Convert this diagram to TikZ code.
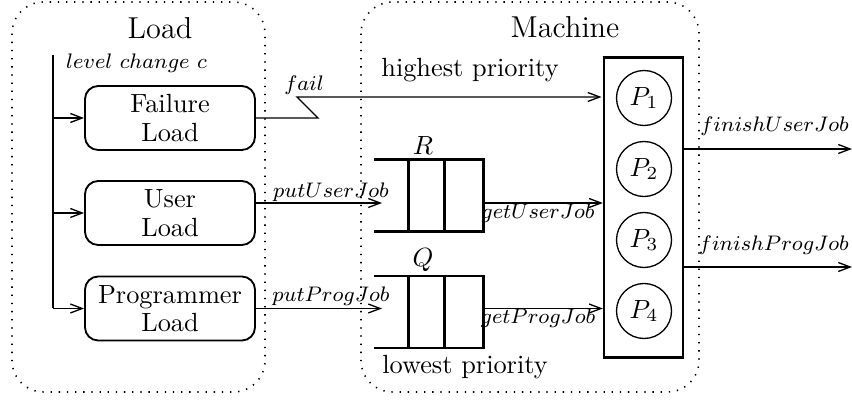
\documentclass[tikz,border=0pt]{standalone}
\usetikzlibrary{arrows.meta}
\begin{document}
\begin{tikzpicture}[x=0.38pt,y=-0.38pt,
  frame/.style={draw,line width=0.6pt,dash pattern=on 0.5pt off 2.6pt,rounded corners=12pt},
  loadbox/.style={draw,line width=0.7pt,rounded corners=5pt,minimum width=170*0.38pt,minimum height=64*0.38pt,align=center,inner sep=0pt,font=\normalsize\linespread{0.9}\selectfont},
  proc/.style={draw,circle,line width=0.5pt,minimum size=55*0.38pt,inner sep=0pt},
  qbox/.style={minimum width=108*0.38pt,minimum height=71*0.38pt,inner sep=0pt},
  qline/.style={line width=0.9pt},
  conn/.style={line width=0.5pt,-{Straight Barb[length=4.5pt,width=3.4pt]}},
  lab/.style={font=\footnotesize,inner sep=1pt},
  title/.style={font=\fontsize{11.5}{14}\selectfont}]
\useasboundingbox (0,0) rectangle (852,400);
% frames
\draw[frame] (12,2) rectangle (265,392);
\draw[frame] (361,2) rectangle (699,392);
\node[title] (tload) at (160,28) {Load};
\node[title] (tmach) at (565,27) {Machine};
% load boxes
\node[loadbox] (fl) at (170,118) {Failure\\Load};
\node[loadbox] (ul) at (170,213) {User\\Load};
\node[loadbox] (pl) at (170,308.5) {Programmer\\Load};
% level change line
\coordinate (lt) at (53,55);
\coordinate (lb) at (53,308.5);
\draw[line width=0.5pt] (lt) -- (lb);
\node[lab,anchor=west] (lc) at (63,63) {$level\ change\ c$};
\draw[conn] (lt |- fl.west) -- (fl.west);
\draw[conn] (lt |- ul.west) -- (ul.west);
\draw[conn] (lb) -- (pl.west);
% machine
\node[draw,line width=0.9pt,minimum width=79*0.38pt,minimum height=300*0.38pt,inner sep=0pt] (mach) at (643.5,207.5) {};
\node[proc] (p1) at (644,98) {$P_1$};
\node[proc] (p2) at (644,169) {$P_2$};
\node[proc] (p3) at (644,240) {$P_3$};
\node[proc] (p4) at (644,311) {$P_4$};
% queues
\node[qbox] (qr) at (429,195.5) {};
\node[qbox] (qq) at (429,312) {};
\foreach \q in {qr,qq}{
  \draw[qline] (\q.north west) -- (\q.north east) -- (\q.south east) -- (\q.south west);
  \draw[qline] ([xshift=34*0.38pt]\q.north west) -- ([xshift=34*0.38pt]\q.south west);
  \draw[qline] ([xshift=70*0.38pt]\q.north west) -- ([xshift=70*0.38pt]\q.south west);
}
\node (lr) at (423,146) {$R$};
\node (lq) at (423,260) {$Q$};
% texts
\node (hp) at (470,70) {highest priority};
\node (lp) at (465,367) {lowest priority};
% fail connector
\coordinate (f1) at (318,118);
\coordinate (f2) at (297,97);
\draw[conn] (fl.east) -- (f1) -- (f2) -- ([xshift=-0.5pt]f2 -| mach.west);
\node[lab] (lfail) at (304,85) {$fail$};
% put connectors
\coordinate (ru) at (382,203);
\coordinate (rp) at (382,308.5);
\draw[conn] (ul.east |- ru) -- (ru);
\draw[conn] (pl.east) -- (rp);
\node[lab] (lpu) at (331,192) {$putUserJob$};
\node[lab] (lpp) at (331,296) {$putProgJob$};
% get connectors
\draw[conn] (qr.east |- ru) -- (ru -| mach.west);
\draw[conn] (qq.east |- rp) -- (rp -| mach.west);
\node[lab] (lgu) at (538,213) {$getUserJob$};
\node[lab] (lgp) at (538,318) {$getProgJob$};
% finish connectors
\coordinate (fu) at (852,149);
\coordinate (fp) at (852,267);
\draw[conn] (mach.east |- fu) -- (fu);
\draw[conn] (mach.east |- fp) -- (fp);
\node[lab,anchor=east] (lfu) at (852,126) {$finishUserJob$};
\node[lab,anchor=east] (lfp) at (852,245) {$finishProgJob$};
\end{tikzpicture}
\end{document}
